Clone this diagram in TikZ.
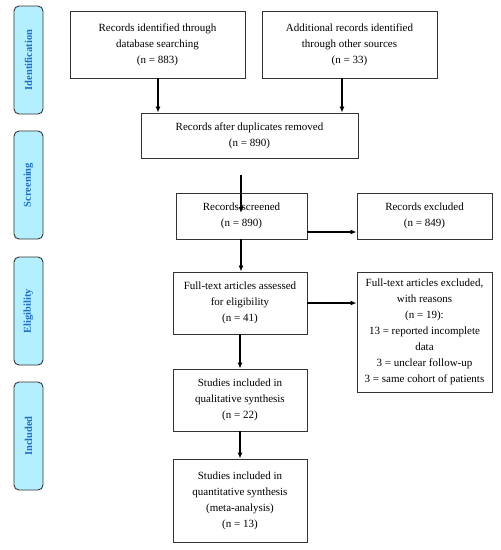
\documentclass[tikz,border=0pt]{standalone}
\usepackage{fontspec}
\setmainfont{Liberation Serif}
\usetikzlibrary{arrows.meta}
\definecolor{lblfill}{HTML}{B3EFFF}
\definecolor{lbltext}{HTML}{1F6FC0}
\definecolor{edge}{HTML}{333333}
\begin{document}
\begin{tikzpicture}[x=1pt,y=-1pt,
  box/.style={draw=edge, line width=0.9pt, rectangle, inner sep=0pt, align=center,
    font=\fontsize{11}{16}\selectfont},
  phase/.style={draw=edge, line width=0.9pt, fill=lblfill, rounded corners=5pt,
    minimum width=108pt, minimum height=29pt, inner sep=0pt, rotate=90,
    font=\fontsize{10.5}{12}\selectfont\bfseries, text=lbltext},
  arr/.style={-{Latex[length=6pt,width=5pt]}, line width=1.3pt, black}]
\useasboundingbox (0,0) rectangle (501,550);
% phase labels
\node[phase] (pid) at (28.5,60) {Identification};
\node[phase] (psc) at (28.5,185) {Screening};
\node[phase] (pel) at (28.5,311) {Eligibility};
\node[phase] (pin) at (28.5,436) {Included};
% boxes
\node[box, minimum width=175pt, minimum height=67pt] (b1) at (157.5,44.5)
  {Records identified through\\database searching\\(n = 883)};
\node[box, minimum width=175pt, minimum height=67pt] (b2) at (349.5,44.5)
  {Additional records identified\\through other sources\\(n = 33)};
\node[box, minimum width=217pt, minimum height=45pt] (b3) at (249.5,135.5)
  {Records after duplicates removed\\(n = 890)};
\node[box, minimum width=131pt, minimum height=46pt] (b4) at (241.5,216)
  {Records screened\\(n = 890)};
\node[box, minimum width=135pt, minimum height=46pt] (b5) at (424.5,216)
  {Records excluded\\(n = 849)};
\node[box, minimum width=134pt, minimum height=62pt] (b6) at (240,303)
  {Full-text articles assessed\\for eligibility\\(n = 41)};
\node[box, minimum width=135pt, minimum height=120pt] (b7) at (424.5,332)
  {Full-text articles excluded,\\with reasons\\(n = 19):\\13 = reported incomplete\\data\\3 = unclear follow-up\\3 = same cohort of patients};
\node[box, minimum width=134pt, minimum height=62pt] (b8) at (240,400)
  {Studies included in\\qualitative synthesis\\(n = 22)};
\node[box, minimum width=134pt, minimum height=83pt] (b9) at (240,500.5)
  {Studies included in\\quantitative synthesis\\(meta-analysis)\\(n = 13)};
% connectors
\draw[arr] (b1.south -| 158,0) -- (b3.north -| 158,0);
\draw[arr] (b2.south -| 342,0) -- (b3.north -| 342,0);
\coordinate (s3) at (241,175);
\coordinate (t3) at (241,213);
\draw[arr] (s3) -- (t3);
\draw[arr] (b4.south -| 241,0) -- (b6.north -| 241,0);
\draw[arr] (b4.east |- 0,232) -- (b5.west |- 0,232);
\draw[arr] (b6.east) -- (b7.west |- b6.east);
\draw[arr] (b6.south) -- (b8.north);
\draw[arr] (b8.south) -- (b9.north);
\end{tikzpicture}
\end{document}
